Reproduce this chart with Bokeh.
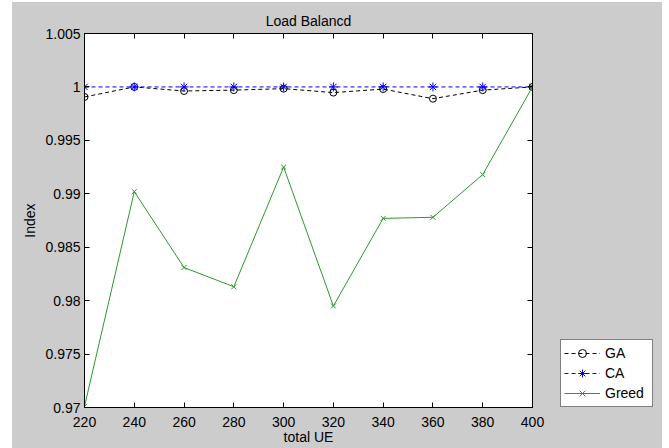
from bokeh.plotting import figure
from bokeh.layouts import row
from bokeh.models import (Range1d, FixedTicker, LinearAxis, Legend, LegendItem,
                          CustomJSTickFormatter)
from bokeh.embed import file_html
from bokeh.resources import INLINE

# ---- data ----
total_ue = [220, 240, 260, 280, 300, 320, 340, 360, 380, 400]
ga = [0.99906, 1.0, 0.99962, 0.9997, 0.99984, 0.99947, 0.9998, 0.9989, 0.9997, 1.0]
ca = [1.0, 1.0, 1.0, 1.0, 1.0, 1.0, 1.0, 1.0, 1.0, 1.0]
greed = [0.9701, 0.9902, 0.9831, 0.9813, 0.9925, 0.9795, 0.9877, 0.9878, 0.9918, 1.0]
x_ticks = [220, 240, 260, 280, 300, 320, 340, 360, 380, 400]
y_ticks = [0.97, 0.975, 0.98, 0.985, 0.99, 0.995, 1.0, 1.005]
title_text = "Load Balancd"
x_label = "total UE"
y_label = "Index"
series_names = ["GA", "CA", "Greed"]

FONT = "Liberation Sans"
BG = "#cccccc"
GREEN = "#2a9a2a"
BLUE = "#0000ff"
DASH = "4 3"

p = figure(frame_width=448, frame_height=374, output_backend="svg", toolbar_location=None,
           x_range=Range1d(220, 400), y_range=Range1d(0.97, 1.005),
           min_border_left=72, min_border_right=28, min_border_top=31,
           min_border_bottom=41)
p.border_fill_color = BG
p.background_fill_color = "white"
p.outline_line_color = "black"
p.grid.visible = False

p.title.text = title_text
p.title.align = "center"
p.title.text_font = FONT
p.title.text_font_size = "14px"
p.title.text_font_style = "normal"
p.title.text_color = "black"

fmt = CustomJSTickFormatter(code="return String(Math.round(tick*1000)/1000);")

for ax in p.xaxis:
    ax.ticker = FixedTicker(ticks=x_ticks)
    ax.axis_label = x_label
for ax in p.yaxis:
    ax.ticker = FixedTicker(ticks=y_ticks)
    ax.formatter = fmt
    ax.axis_label = y_label

for ax in list(p.xaxis) + list(p.yaxis):
    ax.major_tick_in = 5
    ax.major_tick_out = 0
    ax.minor_tick_line_color = None
    ax.axis_line_color = "black"
    ax.major_tick_line_color = "black"
    ax.major_label_text_font = FONT
    ax.major_label_text_font_size = "14px"
    ax.major_label_text_color = "black"
    ax.axis_label_text_font = FONT
    ax.axis_label_text_font_size = "14px"
    ax.axis_label_text_font_style = "normal"
    ax.axis_label_text_color = "black"
    ax.major_label_standoff = 4
    ax.axis_label_standoff = 4
for ax in p.xaxis:
    ax.major_label_standoff = 9
    ax.axis_label_standoff = -1

blank = CustomJSTickFormatter(code="return '';")
top_ax = LinearAxis(ticker=FixedTicker(ticks=x_ticks), formatter=blank,
                    major_tick_in=5, major_tick_out=0, minor_tick_line_color=None,
                    major_label_standoff=0)
right_ax = LinearAxis(ticker=FixedTicker(ticks=y_ticks), formatter=blank,
                      major_tick_in=5, major_tick_out=0, minor_tick_line_color=None,
                      major_label_standoff=0)
p.add_layout(top_ax, "above")
p.add_layout(right_ax, "right")


def draw_series(fig):
    r = []
    r.append(fig.line(total_ue, ga, line_color="black", line_width=1, line_dash=DASH))
    r.append(fig.scatter(total_ue, ga, marker="circle", size=7, line_color="black",
                         fill_color=None, line_width=1))
    r.append(fig.line(total_ue, ca, line_color=BLUE, line_width=1, line_dash=DASH))
    r.append(fig.scatter(total_ue, ca, marker="asterisk", size=9, line_color=BLUE,
                         line_width=1))
    r.append(fig.line(total_ue, greed, line_color=GREEN, line_width=1))
    r.append(fig.scatter(total_ue, greed, marker="x", size=7, line_color=GREEN,
                         line_width=1))
    return r


draw_series(p)

# ---- legend panel: a grey figure whose view range excludes the data ----
lg = figure(width=102, height=446, output_backend="svg",
            toolbar_location=None, title=None,
            x_range=Range1d(0, 1), y_range=Range1d(0, 1),
            x_axis_location=None, y_axis_location=None)
lg.min_border_left = 0
lg.min_border_right = 0
lg.min_border_top = 0
lg.min_border_bottom = 0
lg.border_fill_color = BG
lg.background_fill_color = None
lg.outline_line_color = None
lg.grid.visible = False

rs = draw_series(lg)

legend = Legend(items=[
    LegendItem(label=series_names[0], renderers=[rs[0], rs[1]]),
    LegendItem(label=series_names[1], renderers=[rs[2], rs[3]]),
    LegendItem(label=series_names[2], renderers=[rs[4], rs[5]]),
], location=(0, 0))
legend.padding = 3
legend.spacing = 0
legend.glyph_width = 36
legend.glyph_height = 20
legend.label_height = 20
legend.label_width = 44
legend.label_standoff = 5
legend.label_text_font = FONT
legend.label_text_font_size = "14px"
legend.label_text_color = "black"
legend.border_line_color = "black"
legend.border_line_width = 1
legend.background_fill_color = "white"
legend.background_fill_alpha = 1
legend.margin = 0
lg.add_layout(legend, "center")

layout = row(p, lg, spacing=0)
layout.margin = (2, 7, 0, 12)
layout.styles = {"background-color": BG}
open("out.html", "w").write(file_html(layout, INLINE))
